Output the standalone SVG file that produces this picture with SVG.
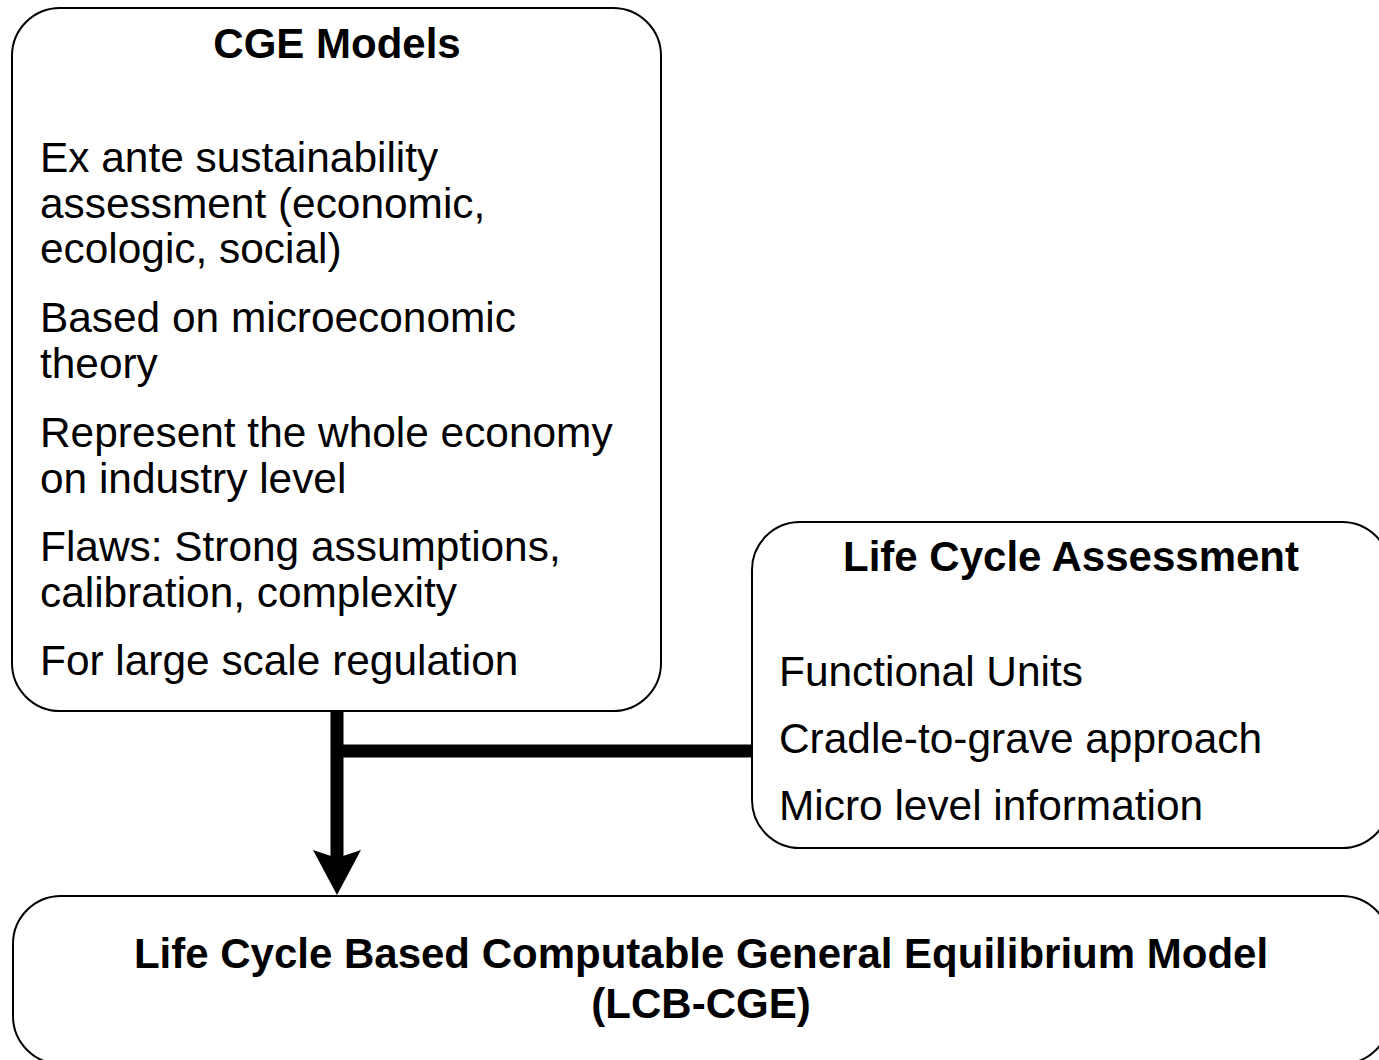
<svg xmlns="http://www.w3.org/2000/svg" width="1379" height="1060" viewBox="0 0 1379 1060">
  <style>
    .box { fill: #ffffff; stroke: #000000; stroke-width: 2; }
    .title { font-family: "Liberation Sans", Arial, sans-serif; font-size: 42px; font-weight: bold; fill: #000000; text-anchor: middle; }
    .item { font-family: "Liberation Sans", Arial, sans-serif; font-size: 42.4px; fill: #000000; }
    .wire { stroke: #000000; stroke-width: 13; fill: none; }
    .head { fill: #000000; }
  </style>
  <rect width="1379" height="1060" fill="#ffffff"/>

  <!-- connectors: the two sources merge into one arrow -->
  <g id="connectors">
    <line class="wire" x1="751" y1="751" x2="337" y2="751"/>
    <line class="wire" x1="337" y1="711" x2="337" y2="862"/>
    <path class="head" d="M337,895 L313,850 L337,858 L361,850 Z"/>
  </g>

  <!-- CGE models -->
  <g id="cge-models">
    <rect class="box" x="12" y="8" width="649" height="703" rx="48" ry="48"/>
    <text class="title" x="337" y="58">CGE Models</text>
    <text class="item" x="40" y="172">Ex ante sustainability</text>
    <text class="item" x="40" y="218">assessment (economic,</text>
    <text class="item" x="40" y="263">ecologic, social)</text>
    <text class="item" x="40" y="332">Based on microeconomic</text>
    <text class="item" x="40" y="378">theory</text>
    <text class="item" x="40" y="447">Represent the whole economy</text>
    <text class="item" x="40" y="493">on industry level</text>
    <text class="item" x="40" y="561">Flaws: Strong assumptions,</text>
    <text class="item" x="40" y="607">calibration, complexity</text>
    <text class="item" x="40" y="675">For large scale regulation</text>
  </g>

  <!-- Life cycle assessment -->
  <g id="lca">
    <rect class="box" x="752" y="522" width="638" height="326" rx="48" ry="48"/>
    <text class="title" x="1071" y="571">Life Cycle Assessment</text>
    <text class="item" x="779" y="686">Functional Units</text>
    <text class="item" x="779" y="753">Cradle-to-grave approach</text>
    <text class="item" x="779" y="820">Micro level information</text>
  </g>

  <!-- combined model -->
  <g id="lcb-cge">
    <rect class="box" x="13" y="896" width="1377" height="168" rx="48" ry="48"/>
    <text class="title" x="701" y="968">Life Cycle Based Computable General Equilibrium Model</text>
    <text class="title" x="701" y="1018">(LCB-CGE)</text>
  </g>
</svg>
